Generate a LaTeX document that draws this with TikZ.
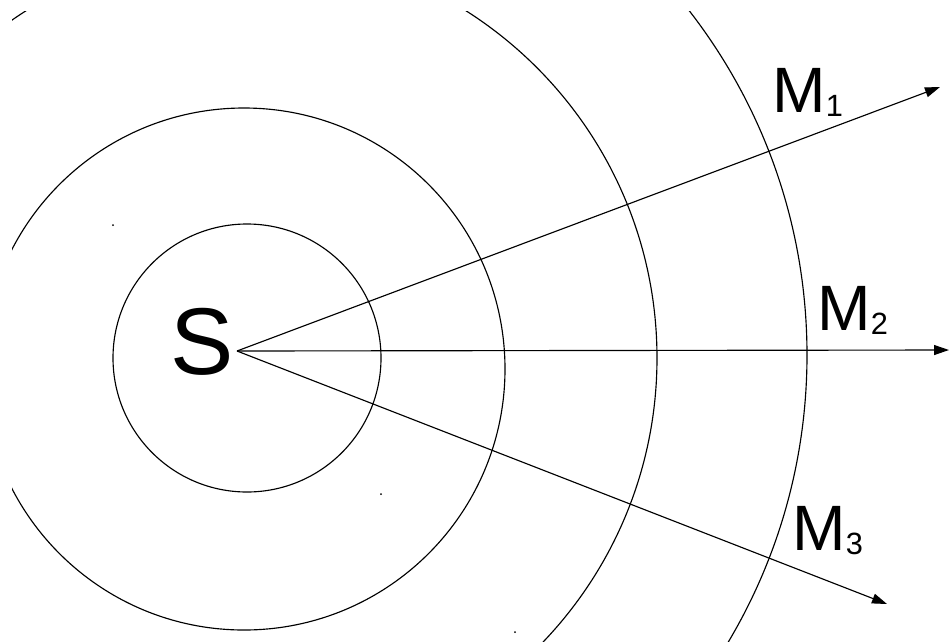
\documentclass[tikz,border=0pt]{standalone}
\usepackage{fontspec}
\newfontfamily\arialfont{Liberation Sans}
\usetikzlibrary{arrows.meta}
\newcommand{\lowidx}[1]{{\fontsize{17.5}{18}\selectfont\raisebox{-2.4pt}{#1}}}

\begin{document}
\begin{tikzpicture}[x=0.2mm,y=-0.2mm,
  wave/.style={line width=0.65pt},
  ray/.style={line width=0.65pt,-{Triangle[length=3mm,width=2mm]}},
  srclab/.style={inner sep=0pt,anchor=base west,font=\arialfont\fontsize{54}{54}\selectfont},
  rcvlab/.style={inner sep=0pt,anchor=base west,font=\arialfont\fontsize{36.5}{38}\selectfont}
]
  \useasboundingbox (0,0) rectangle (949,641);
  \begin{scope}
    \clip (12,11) rectangle (949,641);
    \draw[wave] (247,358) circle[radius=134];
    \draw[wave] (244,369) circle[radius=261];
    \draw[wave] (246,358) circle[radius=411];
    \draw[wave] (245,355) circle[radius=562];
  \end{scope}
  \fill (113,225) circle[radius=1];
  \fill (381,494) circle[radius=1];
  \fill (515,632) circle[radius=1];

  \node[srclab] (s) at (170,374) {S};
  \coordinate (o) at (237,351);
  \coordinate (t1) at (940,87);
  \coordinate (t2) at (949,350);
  \coordinate (t3) at (887,604);
  \node[rcvlab] (m1) at (772,112) {M\lowidx{1}};
  \node[rcvlab] (m2) at (817,330) {M\lowidx{2}};
  \node[rcvlab] (m3) at (792,550) {M\lowidx{3}};
  \draw[ray] (o) -- (t1);
  \draw[ray] (o) -- (t2);
  \draw[ray] (o) -- (t3);
\end{tikzpicture}
\end{document}
